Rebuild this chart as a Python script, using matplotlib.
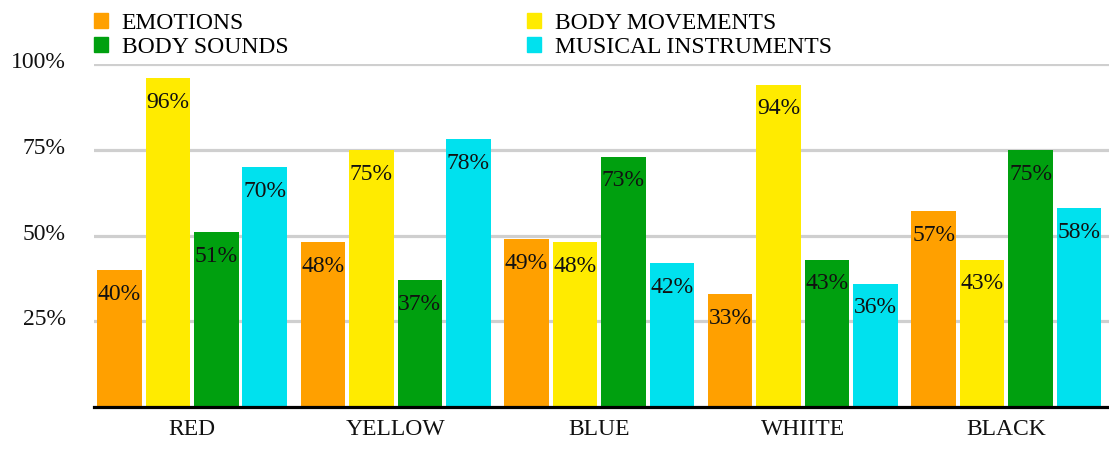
import matplotlib.pyplot as plt
import matplotlib.transforms as mtransforms
import numpy as np
from matplotlib.patches import Patch

plt.rcParams['font.family'] = ['Liberation Serif', 'DejaVu Serif']

colors_cat = ['RED', 'YELLOW', 'BLUE', 'WHIITE', 'BLACK']
emotions = [40, 48, 49, 33, 57]
body_movements = [96, 75, 48, 94, 43]
body_sounds = [51, 37, 73, 43, 75]
musical_instruments = [70, 78, 42, 36, 58]

series = [
    ('EMOTIONS', emotions, '#FFA000'),
    ('BODY MOVEMENTS', body_movements, '#FFEB00'),
    ('BODY SOUNDS', body_sounds, '#00A00F'),
    ('MUSICAL INSTRUMENTS', musical_instruments, '#00E1EE'),
]

W, H = 1109, 454
fig = plt.figure(figsize=(W / 100, H / 100), dpi=100)
# axes box in pixels: left 93.5, right 1109, bottom 407, top 64
ax = fig.add_axes([93.5 / W, (H - 407) / H, (W - 93.5) / W, (407 - 64) / H])

x = np.arange(len(colors_cat))
pitch = 0.238
width = 0.2186
fs = 17

handles = {}
for i, (name, vals, col) in enumerate(series):
    pos = x + (i - 1.5) * pitch
    bars = ax.bar(pos, vals, width, color=col, zorder=3)
    handles[name] = Patch(color=col)
    for b, v in zip(bars, vals):
        ax.annotate('%d%%' % v, (b.get_x() + b.get_width() / 2, v),
                    xytext=(0, -10), textcoords='offset points',
                    ha='center', va='top', fontsize=fs, color='#111111', zorder=4)

ax.set_xlim(-0.484, 4.504)
ax.set_ylim(0, 100)
ax.set_yticks([25, 50, 75, 100])
ax.set_yticklabels(['25%', '50%', '75%', '100%'])
ax.set_xticks(x)
ax.set_xticklabels(colors_cat)
ax.tick_params(axis='both', length=0, labelsize=fs, colors='#111111')
ax.tick_params(axis='y', pad=20)
ax.tick_params(axis='x', pad=8.5)

# y labels sit a little above their gridlines
shift = mtransforms.ScaledTranslation(0, 4 / 100, fig.dpi_scale_trans)
for lab in ax.get_yticklabels():
    lab.set_transform(lab.get_transform() + shift)

ax.yaxis.grid(True, color='#CFCFCF', linewidth=2.3, zorder=0)
for s in ['top', 'right', 'left']:
    ax.spines[s].set_visible(False)
ax.spines['bottom'].set_linewidth(2.3)
ax.spines['bottom'].set_color('black')
ax.spines['bottom'].set_zorder(5)

order = ['EMOTIONS', 'BODY SOUNDS', 'BODY MOVEMENTS', 'MUSICAL INSTRUMENTS']
fig.legend([handles[n] for n in order], order, loc='upper left',
           bbox_to_anchor=(93.5 / W, 1 - 13 / H), ncol=2, frameon=False,
           fontsize=fs, handlelength=0.6, handleheight=0.6, handletextpad=0.6,
           columnspacing=10.1, labelspacing=0.13, borderpad=0, borderaxespad=0)

fig.savefig('out.png', dpi=100)
